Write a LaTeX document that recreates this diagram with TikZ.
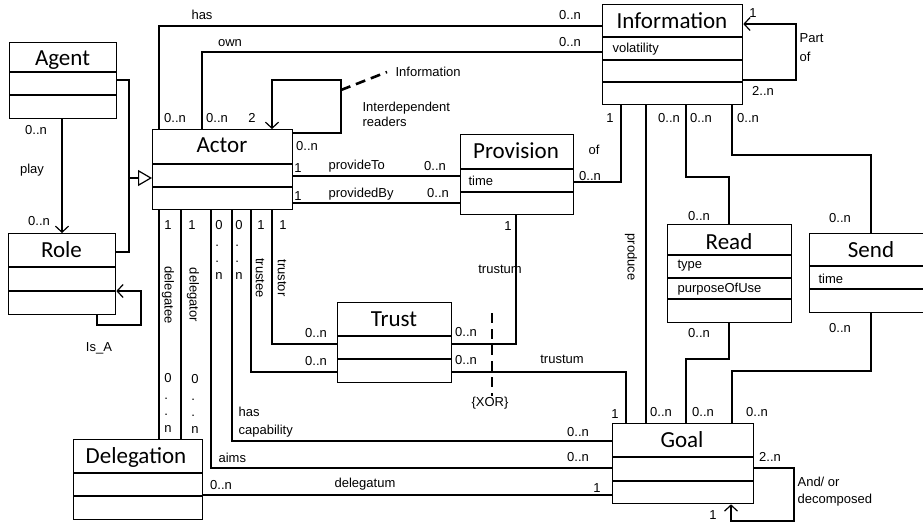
\documentclass[tikz,border=0pt]{standalone}
\usepackage{fontspec}
\newfontfamily\clsfont{Carlito}
\newfontfamily\lblfont{Liberation Sans}
\usetikzlibrary{arrows.meta}

\begin{document}
\begin{tikzpicture}[x=1pt,y=-1pt,line width=1.2pt,>={Straight Barb[length=6pt,width=13pt]},
cls/.style={draw,line width=1.3pt,inner sep=0pt,anchor=north west},
ttl/.style={font=\clsfont\fontsize{23}{26}\selectfont,inner sep=0pt,text height=15pt,text depth=0pt},
sep/.style={line width=1.3pt},
tsep/.style={line width=1.9pt},
lbl/.style={font=\lblfont\fontsize{13}{15}\selectfont,inner sep=0pt},
att/.style={lbl,anchor=west},
vstack/.style={lbl,align=left,font=\lblfont\fontsize{13}{16.5}\selectfont},
xordash/.style={line width=2.6pt,dash pattern=on 10pt off 6pt}]
\useasboundingbox (0,0) rectangle (923,523);
\clip (0,0) rectangle (923,523);
\node[cls,minimum width=107pt,minimum height=76pt] (agent) at (9,42) {};
\node[ttl] (agent-t) at (62.5,58) {Agent};
\draw[tsep] (agent.west |- 0,72) -- (agent.east |- 0,72);
\draw[sep] (agent.west |- 0,95) -- (agent.east |- 0,95);
\node[cls,minimum width=107pt,minimum height=81pt] (role) at (8,233) {};
\node[ttl] (role-t) at (61.5,250) {Role};
\draw[tsep] (role.west |- 0,267) -- (role.east |- 0,267);
\draw[sep] (role.west |- 0,291) -- (role.east |- 0,291);
\node[cls,minimum width=140pt,minimum height=80pt] (actor) at (152,129) {};
\node[ttl] (actor-t) at (222,145) {Actor};
\draw[tsep] (actor.west |- 0,164) -- (actor.east |- 0,164);
\draw[sep] (actor.west |- 0,187) -- (actor.east |- 0,187);
\node[cls,minimum width=129pt,minimum height=80pt] (delegation) at (73,439) {};
\node[ttl] (delegation-t) at (136,456) {Delegation};
\draw[tsep] (delegation.west |- 0,473) -- (delegation.east |- 0,473);
\draw[sep] (delegation.west |- 0,496) -- (delegation.east |- 0,496);
\node[cls,minimum width=140pt,minimum height=100pt] (info) at (602,4) {};
\node[ttl] (info-t) at (672,21) {Information};
\draw[tsep] (info.west |- 0,37) -- (info.east |- 0,37);
\draw[sep] (info.west |- 0,60) -- (info.east |- 0,60);
\draw[sep] (info.west |- 0,82) -- (info.east |- 0,82);
\node[att] (info-a1) at (612,49) {volatility};
\node[cls,minimum width=113pt,minimum height=80pt] (provision) at (460,134) {};
\node[ttl] (provision-t) at (516,151) {Provision};
\draw[tsep] (provision.west |- 0,169) -- (provision.east |- 0,169);
\draw[sep] (provision.west |- 0,192) -- (provision.east |- 0,192);
\node[att] (provision-a1) at (468,181) {time};
\node[cls,minimum width=114pt,minimum height=80pt] (trust) at (337,302) {};
\node[ttl] (trust-t) at (394,319) {Trust};
\draw[tsep] (trust.west |- 0,336) -- (trust.east |- 0,336);
\draw[sep] (trust.west |- 0,359) -- (trust.east |- 0,359);
\node[cls,minimum width=124pt,minimum height=98pt] (read) at (667,224) {};
\node[ttl] (read-t) at (729,242) {Read};
\draw[tsep] (read.west |- 0,255) -- (read.east |- 0,255);
\draw[sep] (read.west |- 0,278) -- (read.east |- 0,278);
\draw[sep] (read.west |- 0,299) -- (read.east |- 0,299);
\node[att] (read-a1) at (677,266) {type};
\node[att] (read-a2) at (677,289) {purposeOfUse};
\node[cls,minimum width=117pt,minimum height=79pt] (send) at (809,233) {};
\node[ttl] (send-t) at (871,250) {Send};
\draw[tsep] (send.west |- 0,266) -- (send.east |- 0,266);
\draw[sep] (send.west |- 0,289) -- (send.east |- 0,289);
\node[att] (send-a1) at (818,279) {time};
\node[cls,minimum width=141pt,minimum height=80pt] (goal) at (612,423) {};
\node[ttl] (goal-t) at (682,440) {Goal};
\draw[tsep] (goal.west |- 0,457) -- (goal.east |- 0,457);
\draw[sep] (goal.west |- 0,481) -- (goal.east |- 0,481);
\coordinate (gen) at (129,178);
\draw[->] (agent.south -| 62,0) -- (role.north -| 62,0);
\draw (agent.east |- 0,80) -| (gen);
\draw (role.east |- 0,252) -| (gen);
\draw[-{Triangle[open,length=14pt,width=16pt]}] (gen) -- (actor.west |- gen);
\draw[->] (role.south -| 97,0) |- (141,325) |- (role.east |- 0,291);
\draw (actor.north -| 159,0) |- (info.west |- 0,26);
\draw (actor.north -| 202,0) |- (info.west |- 0,52);
\draw[->] (actor.east |- 0,133) -| (341,80) -| (actor.north -| 272,0);
\draw (actor.east |- 0,176) -- (provision.west |- 0,176);
\draw (actor.east |- 0,203) -- (provision.west |- 0,203);
\draw (provision.east |- 0,182) -| (info.south -| 621,0);
\draw[->] (info.east |- 0,80) -| (796,24) -- (info.east |- 0,24);
\draw (info.south -| 646,0) -- (goal.north -| 646,0);
\draw (info.south -| 686,0) |- (729,177) -- (read.north -| 729,0);
\draw (read.south -| 729,0) |- (686,359) -- (goal.north -| 686,0);
\draw (info.south -| 732,0) |- (871,155) -- (send.north -| 871,0);
\draw (send.south -| 871,0) |- (732,371) -- (goal.north -| 732,0);
\draw[->] (goal.east |- 0,468) -| (794,521) -| (goal.south -| 731,0);
\draw (actor.south -| 159,0) -- (delegation.north -| 159,0);
\draw (actor.south -| 181,0) -- (delegation.north -| 181,0);
\draw (actor.south -| 211,0) |- (goal.west |- 0,468);
\draw (actor.south -| 232,0) |- (goal.west |- 0,441);
\draw (actor.south -| 251,0) |- (trust.west |- 0,372);
\draw (actor.south -| 272,0) |- (trust.west |- 0,344);
\draw (trust.east |- 0,344) -| (provision.south -| 516,0);
\draw (trust.east |- 0,372) -| (goal.north -| 626,0);
\draw (delegation.east |- 0,495) -- (goal.west |- 0,495);
\node[lbl] (play-m1) at (36,130) {0..n};
\node[lbl] (play-l) at (32,170) {play};
\node[lbl] (play-m2) at (39,221) {0..n};
\node[lbl] (isa-l) at (99,348) {Is\_A};
\node[lbl] (has-l) at (202,15) {has};
\node[lbl] (has-m1) at (175,118) {0..n};
\node[lbl] (has-m2) at (570,15) {0..n};
\node[lbl] (own-l) at (230,43) {own};
\node[lbl] (own-m1) at (217,118) {0..n};
\node[lbl] (own-m2) at (570,42) {0..n};
\node[lbl] (rd-m1) at (252,118) {2};
\node[lbl] (rd-m2) at (307,146) {0..n};
\node[lbl,anchor=west] (rd-note) at (395,72) {Information};
\draw[xordash] (341,90) -- ([xshift=-8pt]rd-note.west);
\node[lbl,anchor=west,align=left] (rd-l) at (362,114) {Interdependent\\readers};
\node[lbl] (pt-m1) at (298,168) {1};
\node[lbl,anchor=west] (pt-l) at (328,166) {provideTo};
\node[lbl] (pt-m2) at (435,166) {0..n};
\node[lbl] (pb-m1) at (298,196) {1};
\node[lbl,anchor=west] (pb-l) at (328,194) {providedBy};
\node[lbl] (pb-m2) at (438,193) {0..n};
\node[lbl] (of-m1) at (610,118) {1};
\node[lbl] (of-l) at (594,150) {of};
\node[lbl] (of-m2) at (590,176) {0..n};
\node[lbl] (po-m1) at (753,13) {1};
\node[lbl] (po-m2) at (763,91) {2..n};
\node[lbl,anchor=west,align=left] (po-l) at (799,48) {Part\\[4pt]of};
\node[lbl] (pr-m1) at (669,118) {0..n};
\node[lbl,rotate=-90] (pr-l) at (631,257) {produce};
\node[lbl] (pr-m2) at (661,412) {0..n};
\node[lbl] (ir-m1) at (701,118) {0..n};
\node[lbl] (ir-m2) at (699,216) {0..n};
\node[lbl] (rg-m1) at (699,333) {0..n};
\node[lbl] (rg-m2) at (703,412) {0..n};
\node[lbl] (is-m1) at (748,118) {0..n};
\node[lbl] (is-m2) at (840,218) {0..n};
\node[lbl] (sg-m1) at (840,328) {0..n};
\node[lbl] (sg-m2) at (757,412) {0..n};
\node[lbl] (ad-m1) at (770,457) {2..n};
\node[lbl] (ad-m2) at (713,515) {1};
\node[lbl,anchor=west,align=left] (ad-l) at (797,492) {And/ or\\[2pt]decomposed};
\node[lbl] (dte-m1) at (168,225) {1};
\node[lbl,rotate=-90] (dte-l) at (168,295) {delegatee};
\node[vstack] (dte-m2) at (168,403) {0\\.\\.\\n};
\node[lbl] (dtor-m1) at (192,225) {1};
\node[lbl,rotate=-90] (dtor-l) at (193,295) {delegator};
\node[vstack] (dtor-m2) at (195,404) {0\\.\\.\\n};
\node[vstack] (aims-m1) at (219,250) {0\\.\\.\\n};
\node[lbl,anchor=west] (aims-l) at (218,458) {aims};
\node[lbl] (aims-m2) at (578,457) {0..n};
\node[vstack] (cap-m1) at (239,250) {0\\.\\.\\n};
\node[lbl,anchor=west,align=left] (cap-l) at (238,422) {has\\[3pt]capability};
\node[lbl] (cap-m2) at (578,432) {0..n};
\node[lbl] (tee-m1) at (261,225) {1};
\node[lbl,rotate=-90] (tee-l) at (260,278) {trustee};
\node[lbl] (tee-m2) at (316,361) {0..n};
\node[lbl] (tor-m1) at (283,225) {1};
\node[lbl,rotate=-90] (tor-l) at (282,278) {trustor};
\node[lbl] (tor-m2) at (316,333) {0..n};
\node[lbl] (tp-m1) at (466,332) {0..n};
\node[lbl] (tp-l) at (500,269) {trustum};
\node[lbl] (tp-m2) at (508,226) {1};
\node[lbl] (tg-m1) at (466,360) {0..n};
\node[lbl] (tg-l) at (562,359) {trustum};
\node[lbl] (tg-m2) at (615,414) {1};
\node[lbl] (xor) at (490,403) {\{XOR\}};
\draw[xordash] (492,313) -- (xor.north -| 492,0);
\node[lbl] (dg-m1) at (221,485) {0..n};
\node[lbl] (dg-l) at (365,484) {delegatum};
\node[lbl] (dg-m2) at (597,488) {1};
\end{tikzpicture}
\end{document}
